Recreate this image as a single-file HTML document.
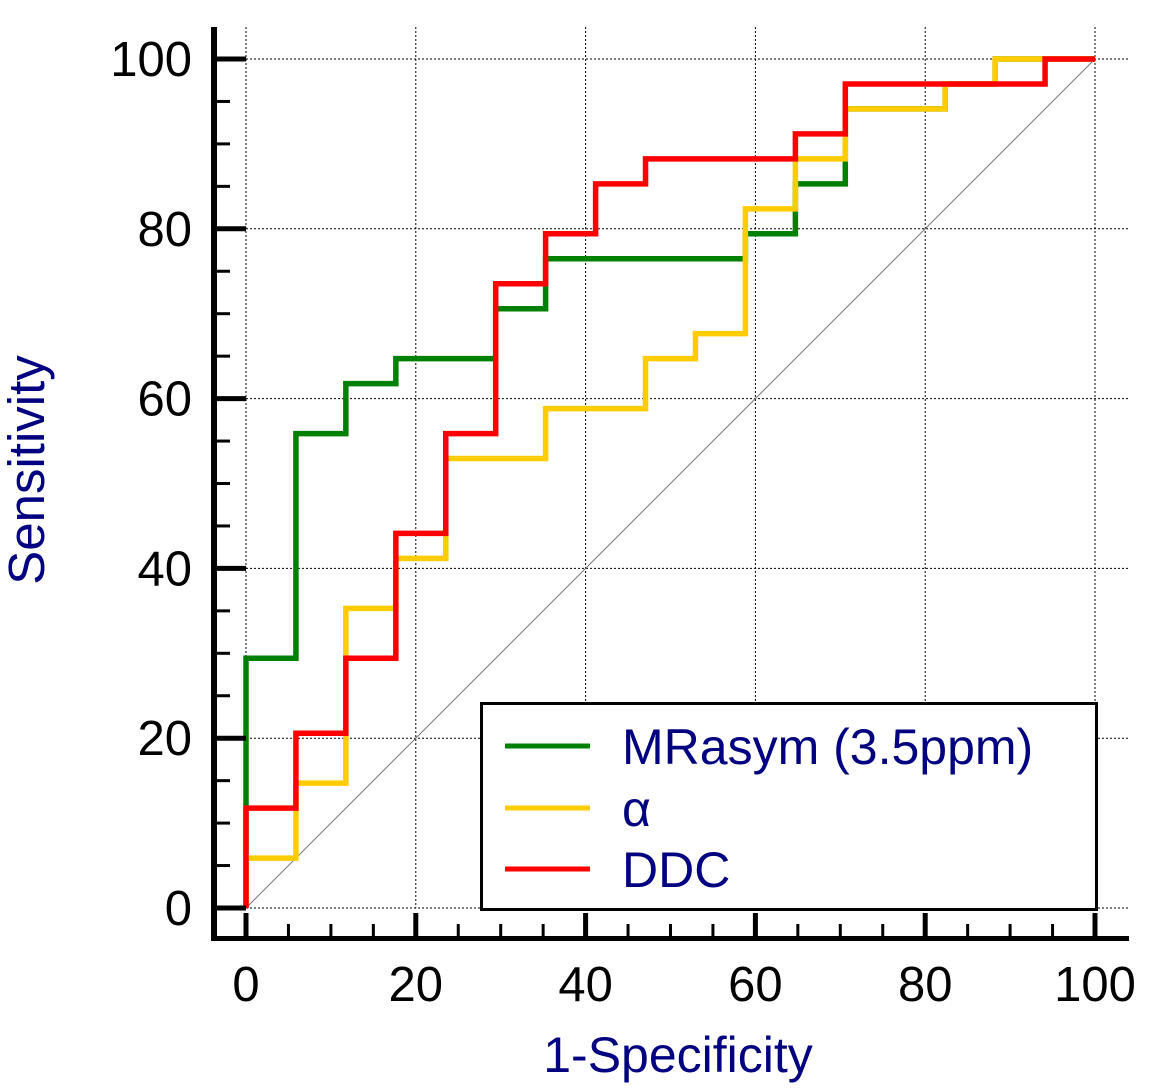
<!DOCTYPE html>
<html><head><meta charset="utf-8"><style>
html,body{margin:0;padding:0;background:#fff;}
svg{display:block;font-family:"Liberation Sans",Arial,sans-serif;}
</style></head><body>
<svg id="chart" width="1155" height="1089" viewBox="0 0 1155 1089" xmlns="http://www.w3.org/2000/svg">
<g id="grid"></g>
<line id="diag" stroke="#777" stroke-width="1"/>
<g id="series"></g>
<g id="axes"></g>
<text transform="translate(44,470) rotate(-90)" text-anchor="middle" font-size="51" fill="#000080">Sensitivity</text>
<text x="678" y="1072" text-anchor="middle" font-size="50" fill="#000080">1-Specificity</text>
<g>
<rect x="481.5" y="703.5" width="615" height="206" fill="#fff" stroke="#000" stroke-width="3"/>
<line x1="505" y1="746" x2="590" y2="746" stroke="#008000" stroke-width="5"/>
<text x="622" y="764" font-size="50" fill="#000080">MRasym (3.5ppm)</text>
<line x1="505" y1="808" x2="590" y2="808" stroke="#FFCC00" stroke-width="5"/>
<text x="622" y="826" font-size="50" fill="#000080">α</text>
<line x1="505" y1="869" x2="590" y2="869" stroke="#FF0000" stroke-width="5"/>
<text x="622" y="887" font-size="50" fill="#000080">DDC</text>
</g>
</svg>
<script>
const xTicks = [0,20,40,60,80,100];
const yTicks = [0,20,40,60,80,100];
const greenX = [0,0,5.88,5.88,11.76,11.76,17.65,17.65,29.41,29.41,35.29,35.29,58.82,58.82,64.71,64.71,70.59,70.59,82.35,82.35,88.24,88.24,100];
const greenY = [0,29.41,29.41,55.88,55.88,61.76,61.76,64.71,64.71,70.59,70.59,76.47,76.47,79.41,79.41,85.29,85.29,94.12,94.12,97.06,97.06,100,100];
const alphaX = [0,0,5.88,5.88,11.76,11.76,17.65,17.65,23.53,23.53,35.29,35.29,47.06,47.06,52.94,52.94,58.82,58.82,64.71,64.71,70.59,70.59,82.35,82.35,88.24,88.24,100];
const alphaY = [0,5.88,5.88,14.71,14.71,35.29,35.29,41.18,41.18,52.94,52.94,58.82,58.82,64.71,64.71,67.65,67.65,82.35,82.35,88.24,88.24,94.12,94.12,97.06,97.06,100,100];
const ddcX = [0,0,5.88,5.88,11.76,11.76,17.65,17.65,23.53,23.53,29.41,29.41,35.29,35.29,41.18,41.18,47.06,47.06,64.71,64.71,70.59,70.59,94.12,94.12,100];
const ddcY = [0,11.76,11.76,20.59,20.59,29.41,29.41,44.12,44.12,55.88,55.88,73.53,73.53,79.41,79.41,85.29,85.29,88.24,88.24,91.18,91.18,97.06,97.06,100,100];

const NS='http://www.w3.org/2000/svg';
const X0=246,X1=1095,Y0=908,Y1=59;
const sx=v=>X0+(X1-X0)*v/100;
const sy=v=>Y0-(Y0-Y1)*v/100;
function mk(tag,parent,attrs){const e=document.createElementNS(NS,tag);for(const k in attrs)e.setAttribute(k,attrs[k]);parent.appendChild(e);return e;}
const grid=document.getElementById('grid');
xTicks.forEach(v=>{const l=mk('line',grid,{x1:sx(v),x2:sx(v),y1:27,y2:Y0,stroke:'#000','stroke-width':1,'stroke-dasharray':'2,2'});

});
yTicks.forEach(v=>{const l=mk('line',grid,{x1:X0,x2:1128,y1:sy(v),y2:sy(v),stroke:'#000','stroke-width':1,'stroke-dasharray':'2,2'});

});
const d=document.getElementById('diag');
d.setAttribute('x1',sx(0));d.setAttribute('y1',sy(0));d.setAttribute('x2',sx(100));d.setAttribute('y2',sy(100));
const ser=document.getElementById('series');
function drawSeries(xs,ys,color,name){
  const pts=xs.map((x,i)=>sx(x)+','+sy(ys[i])).join(' ');
  const p=mk('polyline',ser,{points:pts,fill:'none',stroke:color,'stroke-width':5.5,'stroke-linejoin':'miter'});
  
  
}
drawSeries(greenX,greenY,'#008000','mrasym-curve');
drawSeries(alphaX,alphaY,'#FFCC00','alpha-curve');
drawSeries(ddcX,ddcY,'#FF0000','ddc-curve');
const ax=document.getElementById('axes');
const la=mk('line',ax,{x1:214,x2:214,y1:27,y2:941,stroke:'#000','stroke-width':6});


const ba=mk('line',ax,{x1:211,x2:1129,y1:938.5,y2:938.5,stroke:'#000','stroke-width':5});


for(let v=0;v<=100;v+=5){
  const major=v%20===0;
  const t=mk('line',ax,{x1:214,x2:major?246:230,y1:sy(v),y2:sy(v),stroke:'#000','stroke-width':major?5:3});
  
  
  const u=mk('line',ax,{x1:sx(v),x2:sx(v),y1:938,y2:major?913:924,stroke:'#000','stroke-width':major?5:3});
  
  
}
yTicks.forEach(v=>{const t=mk('text',ax,{x:192,y:sy(v)+17,'text-anchor':'end','font-size':49,fill:'#000'});t.textContent=v;

});
xTicks.forEach(v=>{const t=mk('text',ax,{x:sx(v),y:1001,'text-anchor':'middle','font-size':49,fill:'#000'});t.textContent=v;

});
</script>
</body></html>
